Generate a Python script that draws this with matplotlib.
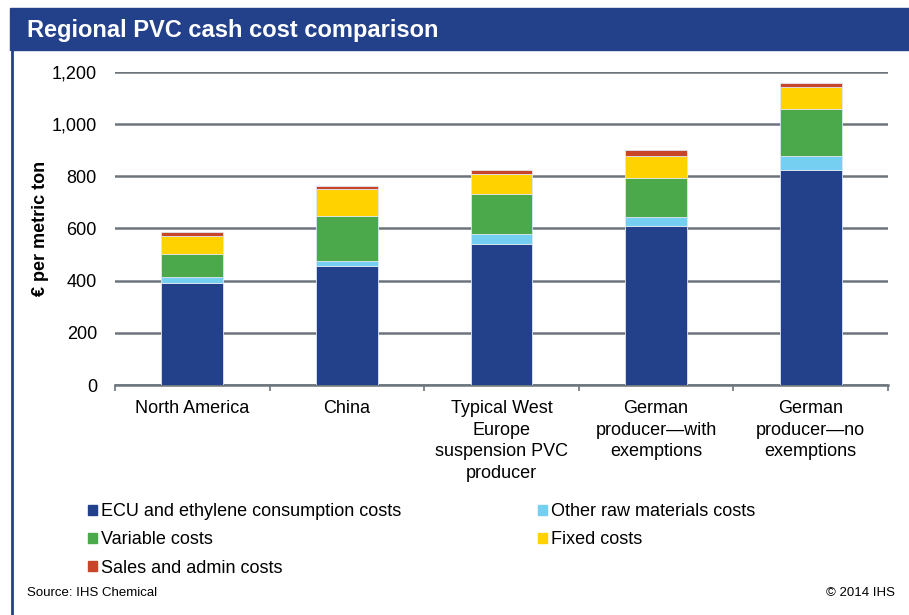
import numpy as np
import matplotlib.pyplot as plt
from matplotlib.patches import Rectangle, Patch

plt.rcParams['font.family'] = ['Liberation Sans', 'DejaVu Sans']

# data (euro per metric ton)
regions = ["North America", "China", "Typical West\nEurope\nsuspension PVC\nproducer",
           "German\nproducer\u2014with\nexemptions", "German\nproducer\u2014no\nexemptions"]
ecu = [390, 457, 542, 611, 824]
other_raw = [24, 17, 38, 32, 54]
variable = [89, 174, 152, 149, 180]
fixed = [70, 103, 77, 85, 86]
sales = [15, 12, 15, 24, 15]

series_names = ["ECU and ethylene consumption costs", "Other raw materials costs",
                "Variable costs", "Fixed costs", "Sales and admin costs"]
colors = ["#23418a", "#75cff0", "#4ba84b", "#ffd200", "#c8452a"]
yticks = [0, 200, 400, 600, 800, 1000, 1200]

W, H = 909, 615
fig = plt.figure(figsize=(W / 100, H / 100), dpi=100)

# title band + left frame line
fig.patches.append(Rectangle((10 / W, 1 - 50 / H), 1 - 10 / W, 42 / H,
                             transform=fig.transFigure, color="#23418a", zorder=0))
fig.lines.append(plt.Line2D([12 / W, 12 / W], [0, 1 - 50 / H], transform=fig.transFigure,
                            color="#23418a", lw=2))
fig.text(27 / W, 1 - 30 / H, "Regional PVC cash cost comparison", color="white",
         fontsize=17, fontweight="bold", va="center", ha="left")

ax = fig.add_axes([115 / W, 1 - 385 / H, (888 - 115) / W, (385 - 72) / H])
x = np.arange(len(regions))
bottom = np.zeros(len(regions))
for vals, name, c in zip([ecu, other_raw, variable, fixed, sales], series_names, colors):
    ax.bar(x, vals, width=0.4, bottom=bottom, color=c, label=name,
           edgecolor="#dde6f2", linewidth=0.6, zorder=3)
    bottom += np.array(vals)

ax.set_xlim(-0.5, len(regions) - 0.5)
ax.set_ylim(0, 1200)
ax.set_yticks(yticks)
ax.set_yticklabels([f"{v:,}" for v in yticks], fontsize=13)
ax.yaxis.grid(True, color="#6d757c", lw=1.8, zorder=0)
ax.tick_params(axis="y", length=0, pad=13)
ax.set_xticks(x)
ax.set_xticklabels(regions, fontsize=13, linespacing=1.35)
ax.tick_params(axis="x", length=0, pad=11)
ax.set_xticks(np.arange(len(regions) + 1) - 0.5, minor=True)
ax.tick_params(axis="x", which="minor", length=4, color="#6d757c", width=1.2)
for s in ["top", "right", "left"]:
    ax.spines[s].set_visible(False)
ax.spines["bottom"].set_color("#6d757c")
ax.spines["bottom"].set_linewidth(1.8)
ax.set_ylabel("\u20ac per metric ton", fontsize=13, fontweight="bold")
ax.yaxis.set_label_coords(-0.085, 0.5)

h = [Patch(color=c) for c in colors]
order = [0, 2, 4, 1, 3]
fig.legend([h[i] for i in order], [series_names[i] for i in order], ncol=2,
           loc="upper left", bbox_to_anchor=(72 / W, 1 - 487 / H), frameon=False,
           fontsize=13, handlelength=0.5, handleheight=0.5, handletextpad=0.2,
           columnspacing=7.6, labelspacing=0.62)

fig.text(27 / W, 1 - 593 / H, "Source: IHS Chemical", fontsize=9.5, va="center")
fig.text(895 / W, 1 - 593 / H, "\u00a9 2014 IHS", fontsize=9.5, va="center", ha="right")

fig.savefig("out.png", dpi=100)
